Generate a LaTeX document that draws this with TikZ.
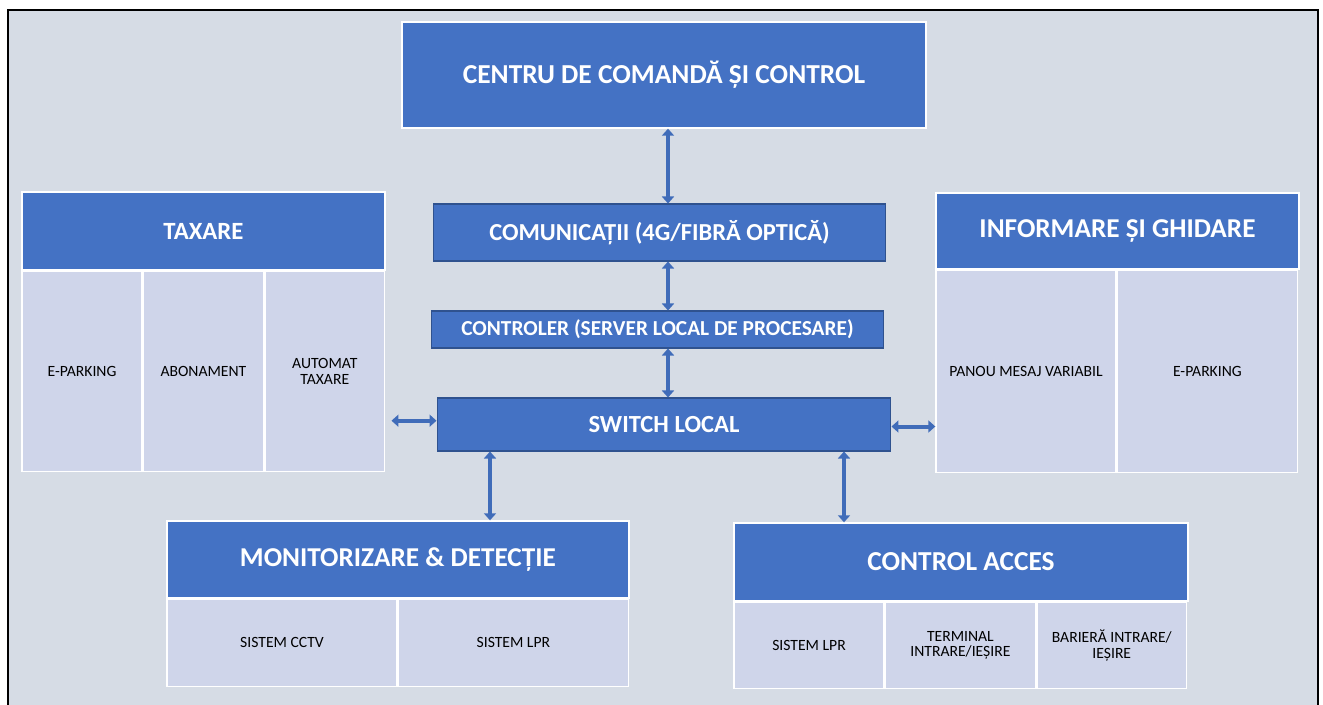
\documentclass[tikz,border=0pt]{standalone}
\usepackage{fontspec}
\setmainfont{Carlito}
\usetikzlibrary{positioning, arrows.meta, calc}
\definecolor{hdblue}{HTML}{4472C4}
\definecolor{edgeblue}{HTML}{2F528F}
\definecolor{cellbg}{HTML}{CFD5EA}
\definecolor{pagebg}{HTML}{D6DCE5}
\newcommand{\fs}[1]{\fontsize{#1}{#1}\selectfont}
\tikzset{
  arr/.style={{Triangle[length=1.4mm,width=2.4mm]}-{Triangle[length=1.4mm,width=2.4mm]}, line width=0.8mm, draw=hdblue!80!edgeblue},
  hdr/.style={draw=white, line width=0.8pt, fill=hdblue, text=white, align=center, inner sep=2pt},
  mid/.style={draw=edgeblue, line width=0.6pt, fill=hdblue, text=white, align=center, inner sep=2pt},
  cell/.style={draw=white, line width=0.8pt, fill=cellbg, align=center, font=\fs{8.9}, inner sep=2pt}
}

\begin{document}
\begin{tikzpicture}[x=0.02cm, y=-0.02cm]
\useasboundingbox (0,0) rectangle (1323,704);
\fill[white] (0,0) rectangle (1323,704);
\draw[line width=1.2pt, fill=pagebg] (8,10) rectangle (1318,740);

% central chain
\node[hdr, minimum width=10.48cm, minimum height=2.12cm, font=\bfseries\fs{15.6}] (cmd) at (664,75) {CENTRU DE COMANDĂ ȘI CONTROL};
\node[mid, minimum width=9.06cm, minimum height=1.14cm, font=\bfseries\fs{13.9}] (com) at (659.5,232.5) {COMUNICAȚII (4G/FIBRĂ OPTICĂ)};
\node[mid, minimum width=9.06cm, minimum height=0.74cm, font=\bfseries\fs{12.15}] (ctl) at (657.5,329.5) {CONTROLER (SERVER LOCAL DE PROCESARE)};
\node[mid, minimum width=9.08cm, minimum height=1.06cm, font=\bfseries\fs{14}] (sw) at (664,424.5) {SWITCH LOCAL};

% taxare
\node[hdr, minimum width=7.26cm, minimum height=1.56cm, font=\bfseries\fs{14.1}] (tax) at (203.5,231) {TAXARE};
\node[cell, minimum width=2.4cm, minimum height=4cm, below right=0pt and 0pt of tax.south west] (tax1) {E-PARKING};
\node[cell, minimum width=2.4cm, minimum height=4cm, right=0pt of tax1] (tax2) {ABONAMENT};
\node[cell, minimum width=2.4cm, minimum height=4cm, right=0pt of tax2] (tax3) {AUTOMAT\\TAXARE};

% informare
\node[hdr, minimum width=7.26cm, minimum height=1.52cm, font=\bfseries\fs{15.5}] (inf) at (1117.5,231) {INFORMARE ȘI GHIDARE};
\node[cell, minimum width=3.6cm, minimum height=4.04cm, below right=0pt and 0pt of inf.south west] (inf1) {PANOU MESAJ VARIABIL};
\node[cell, minimum width=3.6cm, minimum height=4.04cm, right=0pt of inf1] (inf2) {E-PARKING};

% monitorizare
\node[hdr, minimum width=9.24cm, minimum height=1.54cm, font=\bfseries\fs{15.5}] (mon) at (398,559.5) {MONITORIZARE \& DETECȚIE};
\node[cell, minimum width=4.6cm, minimum height=1.74cm, below right=0pt and 0pt of mon.south west] (mon1) {SISTEM CCTV};
\node[cell, minimum width=4.6cm, minimum height=1.74cm, right=0pt of mon1] (mon2) {SISTEM LPR};

% control acces
\node[hdr, minimum width=9.08cm, minimum height=1.56cm, font=\bfseries\fs{15.6}] (acc) at (961,562) {CONTROL ACCES};
\node[cell, minimum width=3.0cm, minimum height=1.72cm, below right=0pt and 0pt of acc.south west] (acc1) {SISTEM LPR};
\node[cell, minimum width=3.0cm, minimum height=1.72cm, right=0pt of acc1] (acc2) {TERMINAL\\INTRARE/IEȘIRE};
\node[cell, minimum width=3.0cm, minimum height=1.72cm, right=0pt of acc2] (acc3) {BARIERĂ INTRARE/\\IEȘIRE};

% links
\coordinate (spine) at (668,0);
\coordinate (lrow) at (0,420.7);
\coordinate (rrow) at (0,426.5);
\coordinate (dl) at (490,0);
\coordinate (dr) at (844,0);
\draw[arr] (cmd.south -| spine) -- (com.north -| spine);
\draw[arr] (com.south -| spine) -- (ctl.north -| spine);
\draw[arr] (ctl.south -| spine) -- (sw.north -| spine);
\draw[arr, shorten <=1.2mm] (tax3.east |- lrow) -- (sw.west |- lrow);
\draw[arr] (sw.east |- rrow) -- (inf1.west |- rrow);
\draw[arr] (sw.south -| dl) -- (mon.north -| dl);
\draw[arr] (sw.south -| dr) -- (acc.north -| dr);
\end{tikzpicture}
\end{document}
